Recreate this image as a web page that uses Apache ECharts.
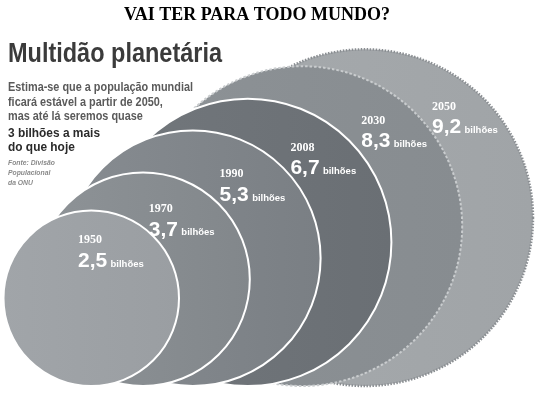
<!DOCTYPE html>
<html>
<head>
<meta charset="utf-8">
<script src="https://cdn.jsdelivr.net/npm/echarts@6/dist/echarts.min.js"></script>
<style>html,body{margin:0;padding:0;background:#fff}#c{width:544px;height:400px}</style>
</head>
<body>
<div id="c"></div>
<script>
// ---- data ----
const years = ['1950', '1970', '1990', '2008', '2030', '2050'];
const populations = [2.5, 3.7, 5.3, 6.7, 8.3, 9.2];           // bilhões
const valueLabels = ['2,5', '3,7', '5,3', '6,7', '8,3', '9,2'];
const unitLabel = 'bilhões';
const headline = 'VAI TER PARA TODO MUNDO?';
const title = 'Multidão planetária';
const introLines = ['Estima-se que a população mundial', 'ficará estável a partir de 2050,', 'mas até lá seremos quase'];
const boldLines = ['3 bilhões a mais', 'do que hoje'];
const sourceLines = ['Fonte: Divisão', 'Populacional', 'da ONU'];

// ---- styles ----
const fills = [
  ['#a1a5a9', '#9a9ea2'],
  ['#8e9397', '#82878b'],
  ['#878c91', '#7a7f84'],
  ['#72777c', '#6a6f74'],
  ['#8d9296', '#878c90'],
  ['#a6aaad', '#a0a4a7']
];
const strokes = [
  {stroke: '#ffffff', lineWidth: 2},
  {stroke: '#ffffff', lineWidth: 2},
  {stroke: '#ffffff', lineWidth: 2},
  {stroke: '#ffffff', lineWidth: 2},
  {stroke: '#c9ccce', lineWidth: 2, lineDash: [2.5, 2]},
  {stroke: '#8a8e92', lineWidth: 2.5, lineDash: [1.5, 1.5]}
];
const labelDx = 101;

const sans = '"Liberation Sans", Arial, sans-serif';
const serif = '"Liberation Serif", "Times New Roman", serif';

function textW(str, font) {
  const c = document.createElement('canvas').getContext('2d');
  c.font = font;
  return c.measureText(str).width;
}

const chart = echarts.init(document.getElementById('c'), null, {renderer: 'canvas'});
const seriesData = years.map((y, i) => [i, populations[i]]).reverse();

const titleFont = 'bold 27px ' + sans;
const titleScale = 214 / textW(title, titleFont);
const introFont = 'bold 13px ' + sans;
const introScale = 185 / textW(introLines[0], introFont);
const boldFont = 'bold 13.5px ' + sans;
const boldScale = 92 / textW(boldLines[0], boldFont);
const srcFont = 'italic bold 8px ' + sans;

const graphics = [{
  type: 'text', x: 8, y: 41, scaleX: titleScale,
  style: {text: title, font: titleFont, fill: '#3b3b3b', verticalAlign: 'top'}
}, {
  type: 'text', x: 257, y: 6,
  style: {text: headline, font: 'bold 18px ' + serif, fill: '#000000', align: 'center', verticalAlign: 'top'}
}];
introLines.forEach((t, k) => graphics.push({
  type: 'text', x: 8, y: 81 + k * 14.6, scaleX: introScale,
  style: {text: t, font: introFont, fill: '#5a5a5a', verticalAlign: 'top'}
}));
boldLines.forEach((t, k) => graphics.push({
  type: 'text', x: 8, y: 126 + k * 14.2, scaleX: boldScale,
  style: {text: t, font: boldFont, fill: '#2a2a2a', verticalAlign: 'top'}
}));
sourceLines.forEach((t, k) => graphics.push({
  type: 'text', x: 8, y: 159 + k * 10, scaleX: 0.85,
  style: {text: t, font: srcFont, fill: '#8a8a8a', verticalAlign: 'top'}
}));

chart.setOption({
  animation: false,
  backgroundColor: '#ffffff',
  graphic: graphics,
  grid: {left: 179, right: 11, top: 53, bottom: 14},
  xAxis: {type: 'category', data: years, boundaryGap: false, show: false},
  yAxis: {type: 'value', min: 0, max: 6, show: false},
  series: [{
    type: 'custom',
    coordinateSystem: 'cartesian2d',
    data: seriesData,
    encode: {x: 0, y: 1},
    renderItem: function (params, api) {
      const idx = api.value(0);
      const v = api.value(1);
      const base = api.coord([idx, 0]);
      const unit = api.size([0, 1])[1];
      const r = Math.sqrt(v) * unit;
      const cx = base[0] - r, cy = base[1] - r;
      const lx = base[0] - labelDx;
      const ly = cy - 0.66 * r;
      return {
        type: 'group',
        children: [
          {
            type: 'circle',
            shape: {cx: cx, cy: cy, r: r},
            style: Object.assign({
              fill: new echarts.graphic.LinearGradient(0, 0, 1, 0, [
                {offset: 0, color: fills[idx][0]},
                {offset: 1, color: fills[idx][1]}
              ])
            }, strokes[idx])
          },
          {
            type: 'text',
            x: lx, y: ly,
            style: {text: years[idx], font: 'bold 12px ' + serif, fill: '#ffffff', verticalAlign: 'middle'}
          },
          {
            type: 'text',
            x: lx, y: ly + 21,
            style: {
              text: '{v|' + valueLabels[idx] + '} {u|' + unitLabel + '}',
              verticalAlign: 'middle',
              rich: {
                v: {font: 'bold 21px ' + sans, fill: '#ffffff'},
                u: {font: 'bold 9.5px ' + sans, fill: '#ffffff', padding: [6, 0, 0, 0]}
              }
            }
          }
        ]
      };
    }
  }]
});
</script>
</body>
</html>
